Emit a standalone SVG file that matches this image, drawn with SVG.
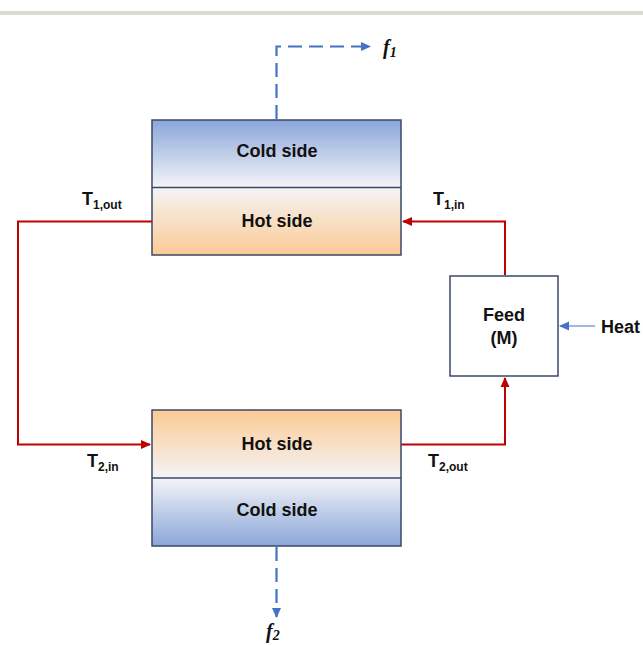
<svg xmlns="http://www.w3.org/2000/svg" width="643" height="646" viewBox="0 0 643 646">
<defs>
<linearGradient id="coldTop" x1="0" y1="0" x2="0" y2="1">
<stop offset="0" stop-color="#8aa6d9"/><stop offset="1" stop-color="#f4f4f8"/>
</linearGradient>
<linearGradient id="hotTop" x1="0" y1="0" x2="0" y2="1">
<stop offset="0" stop-color="#f4f4f6"/><stop offset="1" stop-color="#fcca94"/>
</linearGradient>
<linearGradient id="hotBot" x1="0" y1="0" x2="0" y2="1">
<stop offset="0" stop-color="#fcca94"/><stop offset="1" stop-color="#f4f4f6"/>
</linearGradient>
<linearGradient id="coldBot" x1="0" y1="0" x2="0" y2="1">
<stop offset="0" stop-color="#f4f4f8"/><stop offset="1" stop-color="#8aa6d9"/>
</linearGradient>
<marker id="redArrow" markerWidth="10" markerHeight="10" refX="9" refY="5" orient="auto" markerUnits="userSpaceOnUse">
<path d="M0,0.5 L10,5 L0,9.5 Z" fill="#c00000"/>
</marker>
<marker id="blueArrow" markerWidth="10" markerHeight="10" refX="9" refY="5" orient="auto" markerUnits="userSpaceOnUse">
<path d="M0,0.5 L10,5 L0,9.5 Z" fill="#4472c4"/>
</marker>
</defs>
<style>
.box{stroke:#3a4868;stroke-width:1.5}
.lbl{font-family:"Liberation Sans",Arial,sans-serif;font-weight:bold;font-size:18px;fill:#111;text-anchor:middle}
.t{font-family:"Liberation Sans",Arial,sans-serif;font-weight:bold;font-size:18px;fill:#111}
.sub{font-size:12px}
.f{font-family:"Liberation Serif","Times New Roman",serif;font-weight:bold;font-style:italic;font-size:20px;fill:#111}
.red{fill:none;stroke:#c00000;stroke-width:2}
.dash{fill:none;stroke:#4472c4;stroke-width:2.2;stroke-dasharray:14,7}
</style>
<rect x="0" y="0" width="643" height="646" fill="#ffffff"/>
<rect x="0" y="11" width="643" height="4" fill="#dcdbd0"/>

<g id="connectors">
<path class="dash" d="M276.5,119 V46.5 H370" marker-end="url(#blueArrow)"/>
<path class="dash" d="M276.5,547 V617" marker-end="url(#blueArrow)"/>
<path class="red" d="M152,221.5 H18 V444.5 H150" marker-end="url(#redArrow)"/>
<path class="red" d="M505,275 V221.5 H403" marker-end="url(#redArrow)"/>
<path class="red" d="M401,444.5 H505 V378" marker-end="url(#redArrow)"/>
<path d="M595,326 H560" fill="none" stroke="#4472c4" stroke-width="1.2" marker-end="url(#blueArrow)"/>
</g>

<g id="exchanger1">
<rect x="152" y="120" width="249" height="67.5" fill="url(#coldTop)"/>
<rect x="152" y="187.5" width="249" height="67.5" fill="url(#hotTop)"/>
<rect class="box" x="152" y="120" width="249" height="135" fill="none"/>
<line class="box" x1="152" y1="187.5" x2="401" y2="187.5"/>
<text class="lbl" x="277" y="157">Cold side</text>
<text class="lbl" x="277" y="227">Hot side</text>
</g>

<g id="exchanger2">
<rect x="152" y="410" width="249" height="68" fill="url(#hotBot)"/>
<rect x="152" y="478" width="249" height="68" fill="url(#coldBot)"/>
<rect class="box" x="152" y="410" width="249" height="136" fill="none"/>
<line class="box" x1="152" y1="478" x2="401" y2="478"/>
<text class="lbl" x="277" y="450">Hot side</text>
<text class="lbl" x="277" y="516">Cold side</text>
</g>

<g id="feed">
<rect class="box" x="450" y="276" width="108" height="100" fill="#ffffff"/>
<text class="lbl" x="504" y="321">Feed</text>
<text class="lbl" x="504" y="344">(M)</text>
</g>

<g id="labels">
<text class="t" x="82" y="205">T<tspan class="sub" dy="4">1,out</tspan></text>
<text class="t" x="87" y="467">T<tspan class="sub" dy="4">2,in</tspan></text>
<text class="t" x="433" y="205">T<tspan class="sub" dy="4">1,in</tspan></text>
<text class="t" x="428" y="467">T<tspan class="sub" dy="4">2,out</tspan></text>
<text class="t" x="601" y="333">Heat</text>
<text class="f" x="383" y="54">f<tspan font-size="14" dy="3">1</tspan></text>
<text class="f" x="266" y="638">f<tspan font-size="14" dy="2">2</tspan></text>
</g>
</svg>
